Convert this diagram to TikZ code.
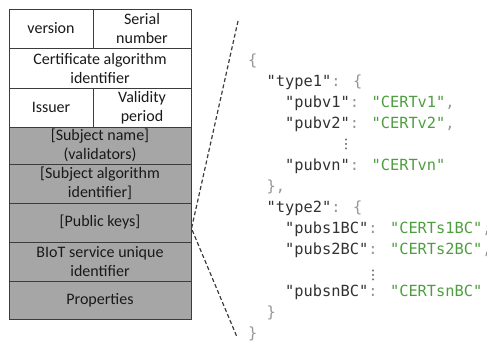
\documentclass[tikz,border=0pt]{standalone}
\usepackage{fontspec}
\setmainfont{Carlito}
\newfontfamily\jcodefont{DejaVu Sans Mono}
\newfontfamily\jsymfont{DejaVu Sans}
\definecolor{cellgray}{RGB}{166,166,166}
\definecolor{borderc}{RGB}{60,60,60}
\definecolor{txtc}{RGB}{25,25,25}
\definecolor{keyc}{RGB}{50,50,50}
\definecolor{punc}{RGB}{150,150,150}
\definecolor{strc}{RGB}{78,158,64}
\newcommand\jkey[1]{\textcolor{keyc}{#1}}
\newcommand\jpun[1]{\textcolor{punc}{#1}}
\newcommand\jstr[1]{\textcolor{strc}{#1}}
\begin{document}
\begin{tikzpicture}[x=1pt,y=-1pt,
  cell/.style={draw=borderc, line width=1pt, inner sep=0pt, align=center, text=txtc,
    font=\fontsize{16}{19}\selectfont},
  graycell/.style={cell, fill=cellgray},
  code/.style={anchor=base west, inner sep=0pt, font=\jcodefont\fontsize{15.36}{18}\selectfont},
  vdots/.style={inner sep=0pt, text=keyc, font=\jsymfont\fontsize{13}{13}\selectfont},
  zoomline/.style={draw=borderc, line width=1.2pt, dash pattern=on 4pt off 2.5pt}]
\useasboundingbox (0,0) rectangle (487,341);
% table
\node[cell, minimum width=84pt, minimum height=39pt] (version) at (51,28.5) {version};
\node[cell, minimum width=98pt, minimum height=39pt] (serial) at (142,28.5) {Serial\\number};
\node[cell, minimum width=182pt, minimum height=40pt] (certalg) at (100,68) {Certificate algorithm\\identifier};
\node[cell, minimum width=84pt, minimum height=39pt] (issuer) at (51,107.5) {Issuer};
\node[cell, minimum width=98pt, minimum height=39pt] (validity) at (142,107.5) {Validity\\period};
\node[graycell, minimum width=182pt, minimum height=37pt] (subjname) at (100,145.5) {[Subject name]\\(validators)};
\node[graycell, minimum width=182pt, minimum height=39pt] (subjalg) at (100,183.5) {[Subject algorithm\\identifier]};
\node[graycell, minimum width=182pt, minimum height=39pt] (pubkeys) at (100,222.5) {[Public keys]};
\node[graycell, minimum width=182pt, minimum height=39pt] (biot) at (100,261.5) {BIoT service unique\\identifier};
\node[graycell, minimum width=182pt, minimum height=38pt] (props) at (100,300.5) {Properties};
% zoom lines
\coordinate (apex) at ([yshift=-6pt]pubkeys.east);
\coordinate (ztop) at (238,21);
\coordinate (zbot) at (237,337);
\draw[zoomline] (ztop) -- (apex) -- (zbot);
% JSON code
\node[code] (l0) at (248,65) {\jpun{\{}};
\node[code] (l1) at (266.5,86) {\jkey{"type1"}\jpun{: \{}};
\node[code] (l2) at (285,107) {\jkey{"pubv1"}\jpun{:} \jstr{"CERTv1"}\jpun{,}};
\node[code] (l3) at (285,128) {\jkey{"pubv2"}\jpun{:} \jstr{"CERTv2"}\jpun{,}};
\node[vdots] (d1) at (346,144) {⋮};
\node[code] (l5) at (285,170) {\jkey{"pubvn"}\jpun{:} \jstr{"CERTvn"}};
\node[code] (l6) at (266.5,191) {\jpun{\},}};
\node[code] (l7) at (266.5,212) {\jkey{"type2"}\jpun{: \{}};
\node[code] (l8) at (285,233) {\jkey{"pubs1BC"}\jpun{:} \jstr{"CERTs1BC"}\jpun{,}};
\node[code] (l9) at (285,254) {\jkey{"pubs2BC"}\jpun{:} \jstr{"CERTs2BC"}\jpun{,}};
\node[vdots] (d2) at (373,275) {⋮};
\node[code] (l11) at (285,296) {\jkey{"pubsnBC"}\jpun{:} \jstr{"CERTsnBC"}};
\node[code] (l12) at (266.5,317) {\jpun{\}}};
\node[code] (l13) at (248,338) {\jpun{\}}};
\end{tikzpicture}
\end{document}
